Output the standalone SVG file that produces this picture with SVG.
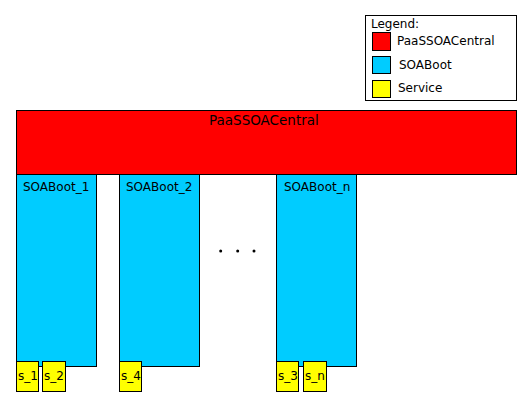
<svg xmlns="http://www.w3.org/2000/svg" width="532" height="407" viewBox="0 0 532 407">
<style>
rect{stroke:#000;stroke-width:1}
.c{fill:#FF0000}
.b{fill:#00CCFF}
.s{fill:#FFFF00}
.w{fill:#FFFFFF}
text{font-family:"DejaVu Sans",sans-serif;font-size:12px;fill:#000}
.big{font-size:13.5px}
</style>
<rect width="532" height="407" fill="#fff" style="stroke:none"/>
<g id="legend">
<rect class="w" x="365.5" y="15.5" width="151" height="85"/>
<text x="371" y="28">Legend:</text>
<rect class="c" x="372.5" y="32.5" width="18" height="18"/>
<text x="397" y="45">PaaSSOACentral</text>
<rect class="b" x="372.5" y="56.5" width="18" height="17"/>
<text x="399" y="69">SOABoot</text>
<rect class="s" x="372.5" y="80.5" width="18" height="17"/>
<text x="398" y="92">Service</text>
</g>
<g id="connectors"></g>
<g id="PaaSSOACentral">
<rect class="c" x="16.5" y="110.5" width="500" height="64"/>
<text class="big" x="209" y="124.5">PaaSSOACentral</text>
</g>
<g id="SOABoot_1">
<rect class="b" x="16.5" y="174.5" width="80" height="192"/>
<text x="23" y="191">SOABoot_1</text>
</g>
<g id="SOABoot_2">
<rect class="b" x="119.5" y="174.5" width="80" height="192"/>
<text x="126" y="191">SOABoot_2</text>
</g>
<g id="SOABoot_n">
<rect class="b" x="276.5" y="174.5" width="80" height="192"/>
<text x="284" y="191">SOABoot_n</text>
</g>
<g id="dots" fill="#000">
<circle cx="220.7" cy="251" r="1.5"/>
<circle cx="237.7" cy="251" r="1.5"/>
<circle cx="254" cy="251" r="1.5"/>
</g>
<g id="s_1"><rect class="s" x="16.5" y="361.5" width="22" height="30"/><text x="18" y="380">s_1</text></g>
<g id="s_2"><rect class="s" x="42.5" y="361.5" width="23" height="30"/><text x="44" y="380">s_2</text></g>
<g id="s_4"><rect class="s" x="119.5" y="361.5" width="22" height="30"/><text x="121" y="380">s_4</text></g>
<g id="s_3"><rect class="s" x="276.5" y="361.5" width="22" height="30"/><text x="278" y="380">s_3</text></g>
<g id="s_n"><rect class="s" x="303.5" y="361.5" width="23" height="30"/><text x="305" y="380">s_n</text></g>
</svg>
